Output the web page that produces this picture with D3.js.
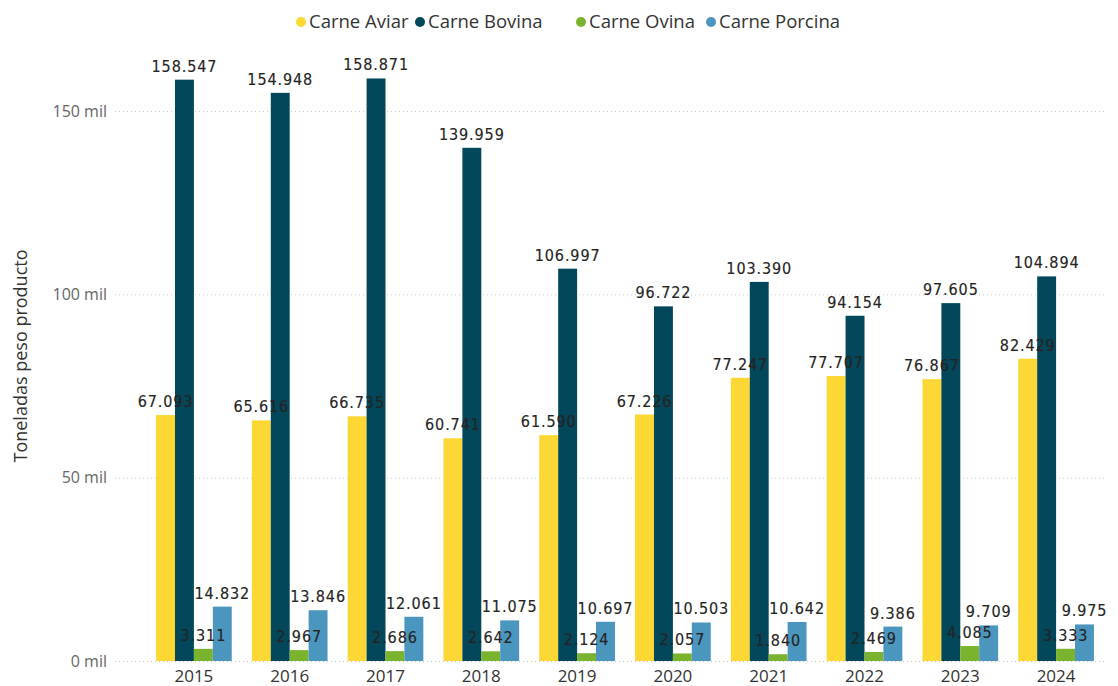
<!DOCTYPE html>
<html>
<head>
<meta charset="utf-8">
<script src="https://cdn.jsdelivr.net/npm/d3@7"></script>
<style>
  body { margin: 0; background: #fff; }
  .grid line { stroke: #c8c8c8; stroke-dasharray: 1,3; }
  .ylab { font-family: "Segoe UI", "Open Sans", sans-serif; font-size: 16px; fill: #666; }
  .xlab { font-family: "Segoe UI", "Open Sans", sans-serif; font-size: 17px; fill: #333; }
  .val { font-family: "DejaVu Sans Condensed", "DejaVu Sans", sans-serif; font-size: 16px; fill: #252423; stroke: #252423; stroke-width: 0.15px; letter-spacing: 0.9px; }
  .leg { font-family: "Segoe UI", "Open Sans", sans-serif; font-size: 18.5px; fill: #333; }
</style>
</head>
<body>
<div id="chart"></div>
<script>
var years = ["2015","2016","2017","2018","2019","2020","2021","2022","2023","2024"];
var seriesNames = ["Carne Aviar","Carne Bovina","Carne Ovina","Carne Porcina"];
var colors = ["#FDD733","#03475A","#7AB32E","#4B96BE"];

var aviar   = [67093, 65616, 66735, 60741, 61590, 67226, 77247, 77707, 76867, 82429];
var bovina  = [158547, 154948, 158871, 139959, 106997, 96722, 103390, 94154, 97605, 104894];
var ovina   = [3311, 2967, 2686, 2642, 2124, 2057, 1840, 2469, 4085, 3333];
var porcina = [14832, 13846, 12061, 11075, 10697, 10503, 10642, 9386, 9709, 9975];

var yTicks = [0, 50000, 100000, 150000];

var width = 1118, height = 686;
var allSeries = [aviar, bovina, ovina, porcina];

var svg = d3.select("#chart").append("svg")
    .attr("width", width)
    .attr("height", height);

var x0 = d3.scaleBand()
    .domain(years)
    .range([146, 1104])
    .paddingInner(0.21)
    .paddingOuter(0.105);

var x1 = d3.scaleBand()
    .domain(seriesNames)
    .range([0, x0.bandwidth()]);

var y = d3.scaleLinear()
    .domain([0, 150000])
    .range([661, 111]);

var loc = d3.formatLocale({decimal: ",", thousands: ".", grouping: [3], currency: ["", ""]});
var fmt = loc.format(",d");

// gridlines
var grid = svg.append("g").attr("class", "grid");
grid.selectAll("line").data(yTicks).enter().append("line")
    .attr("x1", 115).attr("x2", 1104)
    .attr("y1", function(d) { return y(d) + 0.5; })
    .attr("y2", function(d) { return y(d) + 0.5; });

svg.append("g").selectAll("text").data(yTicks).enter().append("text")
    .attr("class", "ylab")
    .attr("x", 107)
    .attr("y", function(d) { return y(d); })
    .attr("dy", "0.35em")
    .attr("text-anchor", "end")
    .text(function(d) { return (d / 1000) + " mil"; });

svg.append("text")
    .attr("class", "ylab")
    .style("font-size", "18px")
    .style("fill", "#333")
    .attr("transform", "translate(27,356) rotate(-90)")
    .attr("text-anchor", "middle")
    .text("Toneladas peso producto");

// bars
var rows = [];
years.forEach(function(yr, i) {
  seriesNames.forEach(function(s, j) {
    rows.push({year: yr, serie: s, idx: j, value: allSeries[j][i]});
  });
});

svg.append("g").selectAll("rect").data(rows).enter().append("rect")
    .attr("x", function(d) { return x0(d.year) + x1(d.serie); })
    .attr("width", x1.bandwidth())
    .attr("y", function(d) { return y(d.value); })
    .attr("height", function(d) { return y(0) - y(d.value); })
    .attr("fill", function(d) { return colors[d.idx]; });

svg.append("g").selectAll("text").data(rows).enter().append("text")
    .attr("class", "val")
    .attr("x", function(d) { return x0(d.year) + x1(d.serie) + x1.bandwidth() / 2; })
    .attr("y", function(d) { return y(d.value) - 8; })
    .attr("text-anchor", "middle")
    .text(function(d) { return fmt(d.value); });

// x labels
svg.append("g").selectAll("text").data(years).enter().append("text")
    .attr("class", "xlab")
    .attr("x", function(d) { return x0(d) + x0.bandwidth() / 2; })
    .attr("y", 682)
    .attr("text-anchor", "middle")
    .text(function(d) { return d; });

// legend
var legX = [301, 420, 581, 711];
var leg = svg.append("g").selectAll("g").data(seriesNames).enter().append("g")
    .attr("transform", function(d, i) { return "translate(" + legX[i] + ",22)"; });
leg.append("circle").attr("r", 5).attr("fill", function(d, i) { return colors[i]; });
leg.append("text").attr("class", "leg").attr("x", 8).attr("dy", "0.35em")
    .text(function(d) { return d; });
</script>
</body>
</html>
